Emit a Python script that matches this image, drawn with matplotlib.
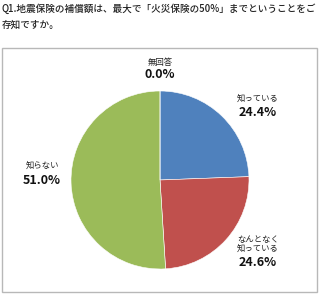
import matplotlib
matplotlib.use("Agg")
import matplotlib.pyplot as plt
from matplotlib.patches import Rectangle

plt.rcParams['font.family'] = ['Noto Sans CJK JP', 'DejaVu Sans']

title = "Q1.地震保険の補償額は、最大で「火災保険の50%」までということをご\n存知ですか。"
labels = ["知っている", "なんとなく\n知っている", "知らない", "無回答"]
values = [24.4, 24.6, 51.0, 0.0]
colors = ["#4F81BD", "#C0504D", "#9BBB59", "#8064A2"]

W, H = 320, 294
fig = plt.figure(figsize=(W / 100, H / 100), dpi=100)

def fx(px):
    return px / W

def fy(py):
    return 1 - py / H

# frame around chart
fig.patches.append(Rectangle((fx(2), fy(292)), fx(315), (290 - 46) / H,
                             transform=fig.transFigure, fill=False,
                             edgecolor="#b8b8b8", linewidth=1))

fig.text(fx(2), fy(3), title, ha="left", va="top", fontsize=6.9,
         fontweight="medium", linespacing=1.75, color="#222222")

ax = fig.add_axes([fx(71), fy(269), 178 / W, 178 / H])
ax.pie(values, colors=colors, startangle=90, counterclock=False,
       wedgeprops=dict(edgecolor="white", linewidth=0.4))
ax.set_xlim(-1, 1)
ax.set_ylim(-1, 1)
ax.set_aspect("equal")
ax.axis("off")

# label positions (pixel centers: name line, percent line)
pos = [(258, 98, 112), (258, 244, 263), (42, 165, 180), (160, 63, 75)]
for lab, v, (x, y1, y2) in zip(labels, values, pos):
    fig.text(fx(x), fy(y1), lab, ha="center", va="center", fontsize=6,
             linespacing=1.05, color="#222222")
    fig.text(fx(x), fy(y2), "%.1f%%" % v, ha="center", va="center",
             fontsize=9, fontweight="bold", color="#111111")

fig.savefig("out.png", dpi=100)
